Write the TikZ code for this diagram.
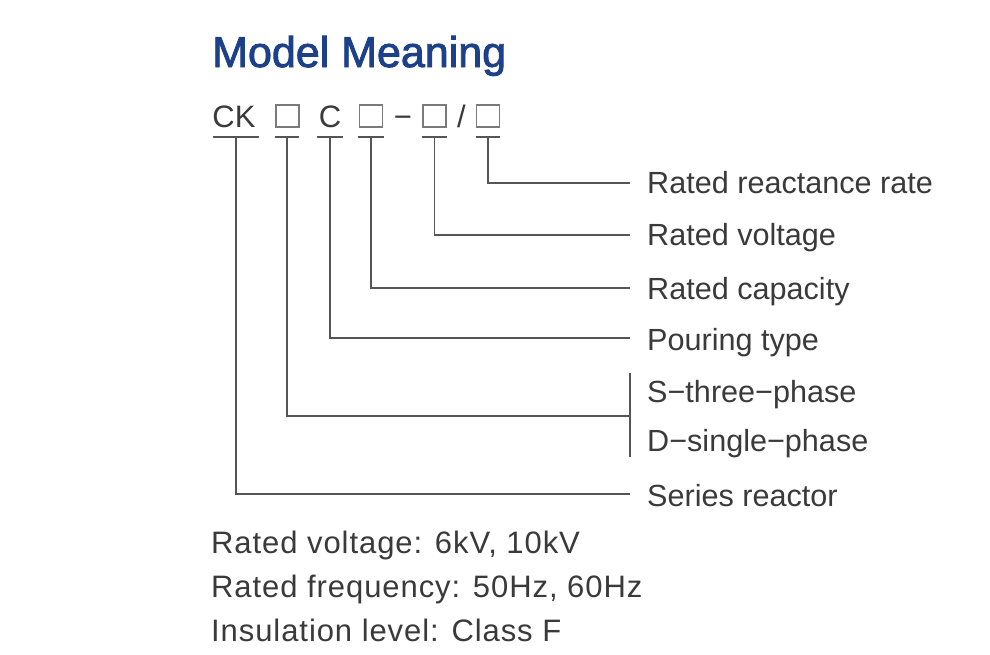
\documentclass[tikz,border=0pt]{standalone}
\usepackage{fontspec}
\setmainfont{Liberation Sans}
\newfontfamily\titlefont[FakeBold=2]{Liberation Sans}
\newfontfamily\spacedfont[LetterSpace=3]{Liberation Sans}
\definecolor{titleblue}{HTML}{1D4189}
\definecolor{txt}{HTML}{3A3A3A}
\definecolor{ln}{HTML}{555555}
\definecolor{sq}{HTML}{7A7A7A}
\begin{document}
\begin{tikzpicture}[x=1pt,y=-1pt,
  lbl/.style={anchor=base west, inner sep=0, text=txt, font=\fontsize{30.6}{36}\selectfont},
  code/.style={anchor=base, inner sep=0, text=txt, font=\fontsize{31}{36}\selectfont},
  info/.style={anchor=base west, inner sep=0, text=txt, font=\spacedfont\fontsize{31}{36}\selectfont},
  sqbox/.style={draw=sq, line width=1.1pt, minimum width=23pt, minimum height=22pt, inner sep=0},
  bar/.style={fill=ln, inner sep=0, minimum height=2pt},
  conn/.style={draw=ln, line width=1.4pt}]
\fill[white] (0,0) rectangle (990,654);
\useasboundingbox (0,0) rectangle (990,654);
% title
\node[anchor=base west, inner sep=0, text=titleblue, font=\titlefont\fontsize{43}{50}\selectfont] (title) at (212,67) {Model Meaning};
% code row
\node[code] (ck) at (234,127) {CK};
\node[sqbox] (b1) at (287.5,116) {};
\node[code] (c) at (330,127) {C};
\node[sqbox] (b2) at (371,116) {};
\node[code] (dash) at (403,127) {−};
\node[sqbox] (b3) at (434.5,116) {};
\node[code] (slash) at (461.5,127) {/};
\node[sqbox] (b4) at (488,116) {};
% underline bars
\node[bar, minimum width=46pt] (barCK) at (236,137) {};
\node[bar, minimum width=24pt] (bar1) at (287,137) {};
\node[bar, minimum width=26pt] (barC) at (330,137) {};
\node[bar, minimum width=26pt] (bar2) at (371,137) {};
\node[bar, minimum width=25pt] (bar3) at (434.5,137) {};
\node[bar, minimum width=24pt] (bar4) at (488,137) {};
% connector ends
\coordinate (e4) at (630,183);
\coordinate (e3) at (630,235);
\coordinate (e2) at (630,288);
\coordinate (eC) at (630,338);
\coordinate (e1) at (630,416);
\coordinate (eCK) at (630,494);
\coordinate (brT) at (630,373);
\coordinate (brB) at (630,457);
% connectors
\draw[conn] (bar4.center) |- (e4);
\draw[conn] (bar3.center) |- (e3);
\draw[conn] (bar2.center) |- (e2);
\draw[conn] (barC.center) |- (eC);
\draw[conn] (bar1.center) |- (e1);
\draw[conn] (barCK.center) |- (eCK);
\draw[conn] (brT) -- (brB);
% labels
\node[lbl] (l4) at (647,193) {Rated reactance rate};
\node[lbl] (l3) at (647,245) {Rated voltage};
\node[lbl] (l2) at (647,299) {Rated capacity};
\node[lbl] (lC) at (647,350) {Pouring type};
\node[lbl] (lS) at (647,402) {S−three−phase};
\node[lbl] (lD) at (647,451) {D−single−phase};
\node[lbl] (lCK) at (647,506) {Series reactor};
% info lines
\node[info] (i1) at (211,553) {Rated voltage: 6kV, 10kV};
\node[info] (i2) at (211,597) {Rated frequency: 50Hz, 60Hz};
\node[info] (i3) at (211,641) {Insulation level: Class F};
\end{tikzpicture}
\end{document}
